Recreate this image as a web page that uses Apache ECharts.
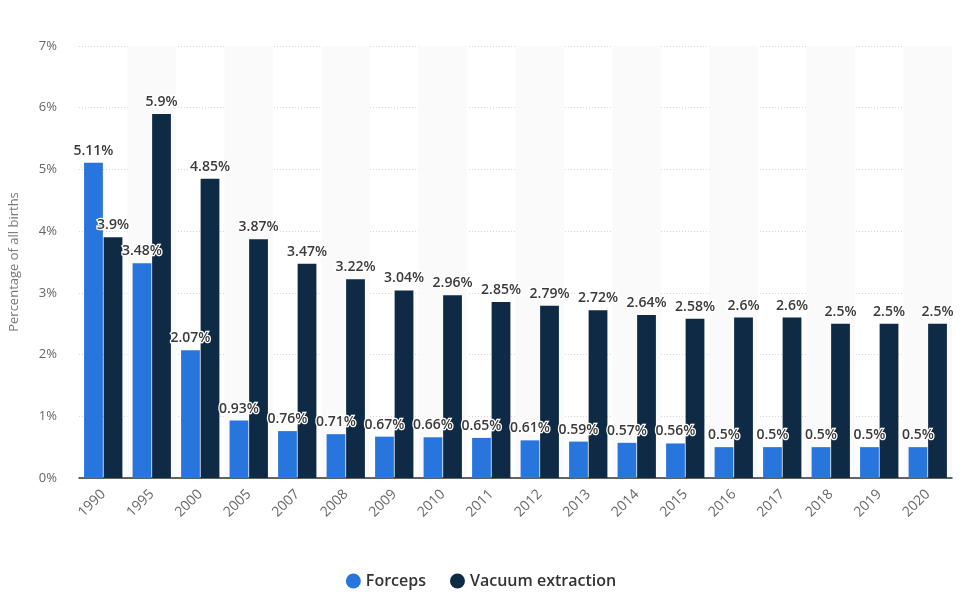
<!DOCTYPE html>
<html>
<head>
<meta charset="utf-8">
<script src="https://cdn.jsdelivr.net/npm/echarts@6/dist/echarts.min.js"></script>
<style>html,body{margin:0;padding:0;background:#fff;}#c{width:962px;height:592px;}</style>
</head>
<body>
<div id="c"></div>
<script>
const years = ['1990','1995','2000','2005','2007','2008','2009','2010','2011','2012','2013','2014','2015','2016','2017','2018','2019','2020'];
const forceps = [5.11,3.48,2.07,0.93,0.76,0.71,0.67,0.66,0.65,0.61,0.59,0.57,0.56,0.5,0.5,0.5,0.5,0.5];
const vacuum = [3.9,5.9,4.85,3.87,3.47,3.22,3.04,2.96,2.85,2.79,2.72,2.64,2.58,2.6,2.6,2.5,2.5,2.5];
const seriesNames = ['Forceps','Vacuum extraction'];
const yTicks = [0,1,2,3,4,5,6,7];

const font = '"Open Sans", sans-serif';
const labelStyle = {
  show: true, position: 'top', distance: 5,
  formatter: p => p.value + '%',
  color: '#3a3a3a', fontFamily: font, fontSize: 14, fontWeight: 600,
  textBorderColor: '#fff', textBorderWidth: 2.5
};
const chart = echarts.init(document.getElementById('c'));
chart.setOption({
  animation: false,
  textStyle: {fontFamily: font},
  grid: {left: 77, right: 10, top: 46, bottom: 114},
  legend: {
    bottom: -2, left: 'center', icon: 'circle', itemWidth: 15, itemHeight: 15, itemGap: 24,
    textStyle: {color: '#333', fontSize: 16, fontFamily: font, fontWeight: 600},
    data: seriesNames
  },
  xAxis: {
    type: 'category', data: years,
    axisLine: {lineStyle: {color: '#333', width: 1.5}},
    axisTick: {show: false},
    axisLabel: {rotate: 45, color: '#666', fontSize: 14, margin: 14},
    splitArea: {show: true, areaStyle: {color: ['rgba(255,255,255,0)', '#fafafa']}}
  },
  yAxis: {
    type: 'value', min: yTicks[0], max: yTicks[yTicks.length-1], interval: 1,
    name: 'Percentage of all births', nameLocation: 'middle', nameGap: 58,
    nameTextStyle: {color: '#777', fontSize: 13},
    axisLabel: {formatter: v => v + '%', color: '#666', fontSize: 13, margin: 22},
    axisLine: {show: false}, axisTick: {show: false},
    splitLine: {lineStyle: {color: '#d5d5d5', type: [1, 2]}}
  },
  series: [
    {name: seriesNames[0], type: 'bar', data: forceps, barGap: '4%', barCategoryGap: '21%',
     itemStyle: {color: '#2876dd'}, label: labelStyle},
    {name: seriesNames[1], type: 'bar', data: vacuum,
     itemStyle: {color: '#0f2a44'}, label: labelStyle}
  ]
});
</script>
</body>
</html>
